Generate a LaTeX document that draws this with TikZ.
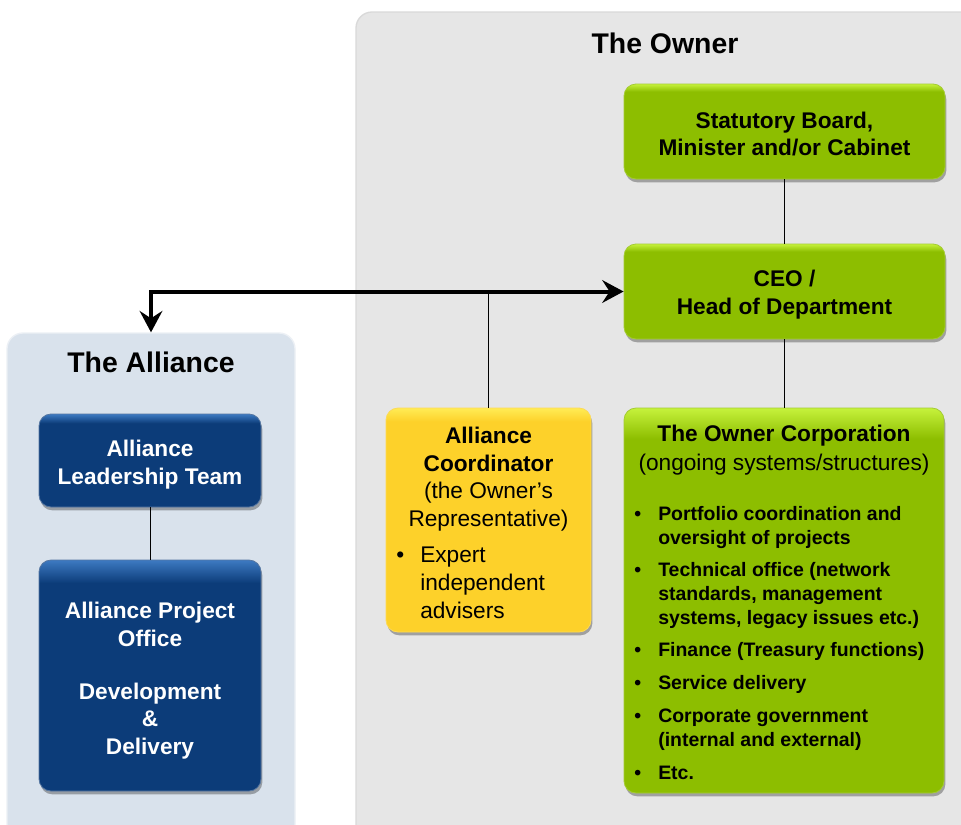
\documentclass[tikz,border=0pt]{standalone}
\usepackage{fontspec}
\setmainfont{Liberation Sans}
\usetikzlibrary{arrows.meta,shadows}

\definecolor{ownergray}{HTML}{E6E6E6}
\definecolor{allyblue}{HTML}{D9E2EC}
\definecolor{navybody}{HTML}{0C3C79}
\definecolor{navytop}{HTML}{3D7AC2}
\definecolor{limebody}{HTML}{8DBE00}
\definecolor{limetop}{HTML}{C6F23C}
\definecolor{goldbody}{HTML}{FDD12A}
\definecolor{goldtop}{HTML}{FFEC55}

% top highlight of the boxes
\pgfdeclareverticalshading{navybevel}{100bp}{color(0bp)=(navybody); color(70bp)=(navybody); color(75bp)=(navytop); color(100bp)=(navytop)}
\pgfdeclareverticalshading{limebevel}{100bp}{color(0bp)=(limebody); color(71bp)=(limebody); color(75bp)=(limetop); color(100bp)=(limetop)}
\pgfdeclareverticalshading{goldbevel}{100bp}{color(0bp)=(goldbody); color(72bp)=(goldbody); color(75bp)=(goldtop); color(100bp)=(goldtop)}

\newcommand\boxtxt{\fontsize{17}{20.8}\selectfont}
\newcommand\listtxt{\fontsize{14.6}{18}\selectfont\bfseries}
\newcommand\topgap[1]{\rule{0pt}{#1}}

\tikzset{
  unitbox/.style={rounded corners=9pt, inner sep=0pt, align=center,
    drop shadow={shadow xshift=1pt, shadow yshift=-2.5pt, opacity=0.3, fill=black}},
  limebox/.style={unitbox, shade, shading=limebevel, draw=limebody!80!white, line width=0.6pt,
    font=\boxtxt\bfseries},
  goldbox/.style={unitbox, shade, shading=goldbevel, draw=goldbody!80!white, line width=0.6pt},
  navybox/.style={unitbox, shade, shading=navybevel, draw=navybody!70!white, line width=0.6pt,
    text=white, font=\boxtxt\bfseries},
  paneltitle/.style={inner sep=0pt, font=\fontsize{21.3}{25}\selectfont\bfseries},
  link/.style={line width=0.75pt},
  bigarrow/.style={line width=3pt, {Stealth[length=16pt,width=17pt,inset=5.5pt]}-{Stealth[length=16pt,width=17pt,inset=5.5pt]}}
}

\begin{document}
\begin{tikzpicture}[x=0.75pt,y=-0.75pt]
  \clip (0,0) rectangle (961,825);
  \fill[white] (0,0) rectangle (961,825);

  % the owner side
  \filldraw[fill=ownergray, draw=black!15, line width=1pt, rounded corners=12pt] (356,12) rectangle (1000,880);
  \node[paneltitle] (ownertitle) at (665,43) {The Owner};
  \node[limebox, minimum width=240.75pt, minimum height=71.25pt] (board) at (784.5,131.5)
    {\topgap{16pt}Statutory Board,\\Minister and/or Cabinet};
  \node[limebox, minimum width=240.75pt, minimum height=71.25pt] (ceo) at (784.5,291.5)
    {\topgap{16.5pt}CEO /\\Head of Department};
  \node[limebox, minimum width=240pt, minimum height=288.75pt] (corp) at (784,600.5) {};
  \node[inner sep=0pt, font=\boxtxt\bfseries] (corptitle) at (784,436) {The Owner Corporation};
  \node[inner sep=0pt, font=\boxtxt] (corpsub) at (784,465) {(ongoing systems/structures)};
  \node[inner sep=0pt, anchor=north west, font=\listtxt] (corplist) at (634,503) {%
    \begin{tabular}{@{}p{18pt}@{}l@{}}
      \textbullet & Portfolio coordination and\\
                  & oversight of projects\\[6pt]
      \textbullet & Technical office (network\\
                  & standards, management\\
                  & systems, legacy issues etc.)\\[6pt]
      \textbullet & Finance (Treasury functions)\\[6.8pt]
      \textbullet & Service delivery\\[6.8pt]
      \textbullet & Corporate government\\
                  & (internal and external)\\[6.8pt]
      \textbullet & Etc.
    \end{tabular}};

  \node[goldbox, minimum width=153.75pt, minimum height=168pt] (coord) at (488.5,520) {};
  \node[inner sep=0pt, align=center, font=\boxtxt] (coordtitle) at (488.5,479)
    {\textbf{Alliance}\\\textbf{Coordinator}\\(the Owner’s\\Representative)};
  \node[inner sep=0pt, anchor=north west, font=\boxtxt] (coordlist) at (396,543) {%
    \begin{tabular}{@{}p{18pt}@{}l@{}}
      \textbullet & Expert\\
                  & independent\\
                  & advisers
    \end{tabular}};

  % the alliance side
  \node[rounded corners=12pt, fill=allyblue, draw=white!50!allyblue, line width=1pt,
    minimum width=216pt, minimum height=380.25pt, inner sep=0pt] (ally) at (151,586.5) {};
  \node[paneltitle] (allytitle) at (151,362) {The Alliance};
  \node[navybox, minimum width=166.5pt, minimum height=69.75pt] (alt) at (150,460.5)
    {\topgap{19pt}Alliance\\Leadership Team};
  \node[navybox, minimum width=166.5pt, minimum height=173.25pt] (apo) at (150,675.5)
    {\topgap{20pt}Alliance Project\\Office\\[19pt]Development\\\&\\Delivery};

  % links
  \draw[link] (board.south) -- (ceo.north);
  \draw[link] (ceo.south) -- (ceo.south |- corp.north);
  \draw[link] (alt.south) -- (apo.north);
  \draw[link] (coord.north) -- (coord.north |- ceo.west);
  \draw[bigarrow] (ally.north) |- (ceo.west);
\end{tikzpicture}
\end{document}
